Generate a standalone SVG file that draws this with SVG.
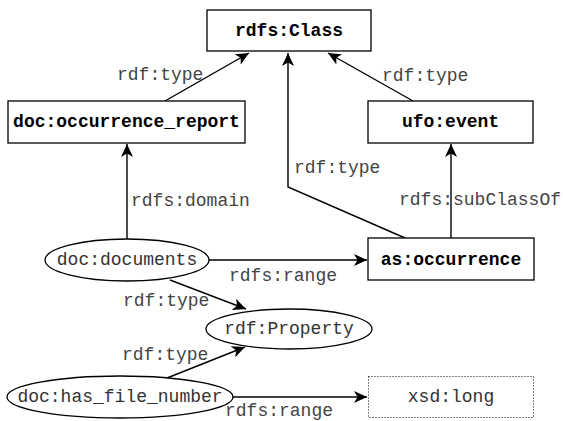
<svg xmlns="http://www.w3.org/2000/svg" width="563" height="421" viewBox="0 0 563 421">
  <style>
    .box { fill: #fff; stroke: #000; stroke-width: 1.3; }
    .dotbox { fill: #fff; stroke: #000; stroke-width: 1; stroke-dasharray: 1 2; }
    .ell { fill: #fff; stroke: #000; stroke-width: 1.3; }
    .cls { font-family: "Liberation Mono", "Courier New", monospace; font-size: 18px; font-weight: bold; fill: #000; text-anchor: middle; }
    .lit { font-family: "Liberation Mono", "Courier New", monospace; font-size: 18px; fill: #333; text-anchor: middle; }
    .lbl { font-family: "Liberation Mono", "Courier New", monospace; font-size: 18px; fill: #444; }
    .edge { fill: none; stroke: #000; stroke-width: 1.4; marker-end: url(#arrow); }
  </style>
  <defs>
    <marker id="arrow" markerUnits="userSpaceOnUse" markerWidth="14" markerHeight="12" refX="13" refY="6" orient="auto">
      <path d="M0,0 L13,6 L0,12 L3.5,6 Z" fill="#000"/>
    </marker>
  </defs>
  <rect width="563" height="421" fill="#fff"/>

  <!-- connectors -->
  <g id="edges">
    <path class="edge" d="M165,101 L249,53"/>
    <path class="edge" d="M413,101 L328,53"/>
    <path class="edge" d="M405,238 L288,187 L288,53"/>
    <path class="edge" d="M451,238 L451,144"/>
    <path class="edge" d="M127,239 L127,144"/>
    <path class="edge" d="M209,260 L367,260"/>
    <path class="edge" d="M170,280 L246,309"/>
    <path class="edge" d="M167,378 L245,347"/>
    <path class="edge" d="M232,397 L367,397"/>

    <text class="lbl" x="117" y="80">rdf:type</text>
    <text class="lbl" x="382" y="81">rdf:type</text>
    <text class="lbl" x="294" y="173">rdf:type</text>
    <text class="lbl" x="399" y="205">rdfs:subClassOf</text>
    <text class="lbl" x="131" y="206">rdfs:domain</text>
    <text class="lbl" x="229" y="281">rdfs:range</text>
    <text class="lbl" x="123" y="306">rdf:type</text>
    <text class="lbl" x="122" y="360">rdf:type</text>
    <text class="lbl" x="225" y="416">rdfs:range</text>
  </g>

  <!-- nodes -->
  <g id="rdfs-class">
    <rect class="box" x="207" y="10" width="164" height="41"/>
    <text class="cls" x="289" y="36">rdfs:Class</text>
  </g>
  <g id="doc-occurrence-report">
    <rect class="box" x="8" y="101" width="237" height="42"/>
    <text class="cls" x="126.5" y="127">doc:occurrence_report</text>
  </g>
  <g id="ufo-event">
    <rect class="box" x="368" y="101" width="165" height="42"/>
    <text class="cls" x="450.5" y="127">ufo:event</text>
  </g>
  <g id="as-occurrence">
    <rect class="box" x="368" y="238" width="166" height="42"/>
    <text class="cls" x="451" y="265">as:occurrence</text>
  </g>
  <g id="doc-documents">
    <ellipse class="ell" cx="127" cy="260" rx="82" ry="21"/>
    <text class="lit" x="127" y="265">doc:documents</text>
  </g>
  <g id="rdf-property">
    <ellipse class="ell" cx="289" cy="329" rx="83" ry="20"/>
    <text class="lit" x="289" y="334">rdf:Property</text>
  </g>
  <g id="doc-has-file-number">
    <ellipse class="ell" cx="120" cy="397" rx="113" ry="21"/>
    <text class="lit" x="120" y="402">doc:has_file_number</text>
  </g>
  <g id="xsd-long">
    <rect class="dotbox" x="368.5" y="376.5" width="165" height="41"/>
    <text class="lit" x="451" y="402">xsd:long</text>
  </g>
</svg>
